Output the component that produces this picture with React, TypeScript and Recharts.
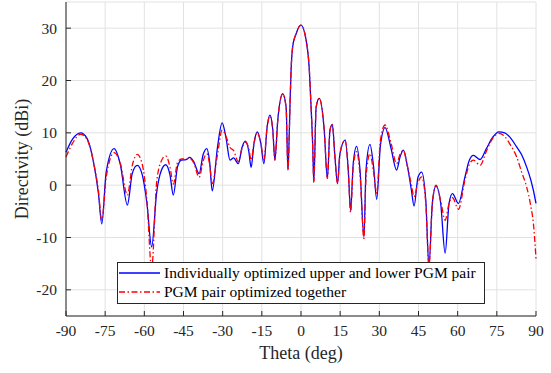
import { CartesianGrid, Legend, Line, LineChart, XAxis, YAxis } from "recharts";

const FONT = "'Liberation Serif', 'Times New Roman', serif";
const AXIS = "#262626";

// angle grid (deg)
const theta = [
  -90, -87.5, -84.4, -82, -79.5, -77.6, -76.3, -74.6, -71.6, -69.2, -66.5, -64.6, -62.7, -60.8, -59,
  -57.2, -55.3, -53.5, -51.8, -50.2, -48.9, -47.3, -45.8, -44, -42.6, -41.1, -39, -37.5, -36.1, -35,
  -34, -32, -30.2, -28.7, -27.2, -25.8, -24, -22.6, -21.3, -20, -19.1, -18, -16.7, -15.4, -14.2, -13,
  -11.9, -10.8, -10, -8.9, -7, -5.7, -5, -4.7, -4.2, -3.8, -3.2, -1.9, 0, 1.9, 3.2, 3.8, 4.5, 4.9,
  5.8, 7, 8.9, 10.1, 11.1, 12, 13, 14, 14.9, 16.9, 18.1, 19, 20, 21.3, 22.6, 24.1, 24.9, 26.4, 27.8,
  29, 30.4, 32.2, 34.5, 36.6, 38, 39.2, 40.8, 42.3, 43.3, 44.8, 46.2, 47.8, 49, 50.3, 51.7, 53.5, 55.2,
  56.7, 58, 60.3, 62.8, 64.5, 66, 68.6, 71, 73.5, 75.8, 78, 80.3, 82.6, 84.5, 86.4, 88, 89, 90,
];

// Individually optimized upper and lower PGM pair
const individual = [
  6.3, 8.8, 10.0, 9.0, 4.5, -1.5, -7.4, 2.5, 7.0, 4.0, -3.8, 2.3, 3.8, 2.0, -3.5,
  -11.8, -1.5, 2.8, 3.9, 2.0, -1.9, 3.5, 4.8, 4.9, 5.3, 4.5, 2.2, 5.8, 7.0, 4.5,
  -1.1, 7.2, 11.9, 9.0, 4.8, 5.2, 4.1, 7.2, 8.4, 6.5, 3.4, 8.0, 10.2, 8.0, 4.1, 11.0,
  13.4, 10.5, 4.8, 12.4, 17.5, 14.9, 2.9, 6.1, 15.6, 21.9, 26.4, 28.9, 30.6, 27.9, 21.9, 15.6, 7.3, 0.6,
  14.9, 16.6, 10.5, 1.3, 10.5, 11.6, 5.4, 0.3, 6.0, 8.6, 2.9, -4.8, 4.1, 7.4, 2.9, -9.9, 2.9, 7.8, 3.5,
  -2.7, 7.5, 11.0, 7.0, 2.9, 5.5, 6.7, 3.5, -1.0, -4.0, 1.5, 2.5, -3.0, -15.5, -3.5, -0.2, -3.5, -13.0,
  -3.5, -1.6, -3.5, 1.6, 4.8, 5.7, 4.9, 7.0, 9.2, 10.2, 10.0, 9.0, 7.3, 5.8, 3.5, 1.0, -1.0, -3.5,
];

// PGM pair optimized together
const together = [
  5.4, 8.0, 9.7, 8.8, 4.5, -1.0, -6.7, 1.5, 6.2, 4.2, -1.9, 3.8, 5.9, 4.0, -3.0,
  -16.0, 0.5, 4.6, 5.6, 3.5, 0.2, 4.3, 5.0, 5.0, 5.1, 4.3, 1.5, 4.6, 6.0, 4.0,
  0.3, 5.8, 10.5, 9.3, 7.2, 6.6, 4.5, 7.0, 8.2, 7.0, 4.8, 8.0, 10.0, 8.0, 4.9, 11.0,
  13.2, 10.5, 4.8, 12.4, 17.4, 14.9, 2.9, 6.1, 15.6, 21.9, 26.4, 28.9, 30.6, 27.9, 21.9, 15.6, 7.3, 0.6,
  14.9, 16.6, 10.5, 1.3, 10.5, 11.6, 5.4, 0.3, 6.0, 8.6, 2.9, -5.2, 3.5, 6.4, 2.0, -10.2, 1.5, 6.0, 2.5,
  -1.6, 8.5, 11.5, 8.0, 4.1, 6.0, 6.6, 3.5, 0.0, -2.2, 0.5, 1.6, -3.5, -15.5, -3.5, 0.0, -3.0, -6.7,
  -3.5, -2.4, -4.6, 1.0, 4.0, 4.8, 3.8, 6.5, 9.0, 9.9, 9.3, 7.6, 5.4, 2.5, -0.3, -4.0, -7.3, -14.0,
];

const xTicks = [-90, -75, -60, -45, -30, -15, 0, 15, 30, 45, 60, 75, 90];
const yTicks = [-20, -10, 0, 10, 20, 30];

const series = [
  { key: "individual", name: "Individually optimized upper and lower PGM pair", color: "#0000ff", dash: undefined },
  { key: "together", name: "PGM pair optimized together", color: "#ff0000", dash: "6 2.5 1.5 2.5" },
];

const data = theta.map((t, i) => ({ theta: t, individual: individual[i], together: together[i] }));

// tick labels drawn by hand so the serif font sticks
function XTick({ x, y, payload }: any) {
  return (
    <text x={x} y={y} dy={11} textAnchor="middle" fontFamily={FONT} fontSize={15.5} fill={AXIS}>
      {payload.value}
    </text>
  );
}

function YTick({ x, y, payload }: any) {
  return (
    <text x={x} y={y} dy={5.5} textAnchor="end" fontFamily={FONT} fontSize={15.5} fill={AXIS}>
      {payload.value}
    </text>
  );
}

function LegendBox() {
  return (
    <div
      style={{
        width: 368,
        height: 42,
        boxSizing: "border-box",
        border: `1px solid ${AXIS}`,
        background: "#fff",
        fontFamily: FONT,
        fontSize: 15.5,
        color: "#000",
      }}
    >
      {series.map((s) => (
        <div key={s.key} style={{ display: "flex", alignItems: "center", height: 19.5, whiteSpace: "nowrap" }}>
          <svg width={41} height={10} style={{ marginLeft: 1 }}>
            <line x1={0} y1={5} x2={41} y2={5} stroke={s.color} strokeWidth={1.3} strokeDasharray={s.dash} />
          </svg>
          <span style={{ marginLeft: 4 }}>{s.name}</span>
        </div>
      ))}
    </div>
  );
}

export default function App() {
  return (
    <div style={{ position: "absolute", left: 0, top: 0, fontFamily: FONT }}>
      <LineChart width={551} height={373} data={data} margin={{ top: 2, right: 15, bottom: 0, left: 0 }}>
        <CartesianGrid stroke="#e2e2e2" strokeWidth={1} />
        <XAxis
          dataKey="theta"
          type="number"
          domain={[-90, 90]}
          ticks={xTicks}
          height={57}
          tickSize={-5}
          tickMargin={14}
          tick={<XTick />}
          stroke={AXIS}
          label={{ value: "Theta (deg)", position: "insideBottom", offset: 14, fill: AXIS, fontSize: 18, fontFamily: FONT }}
        />
        <XAxis
          xAxisId="top"
          orientation="top"
          type="number"
          dataKey="theta"
          domain={[-90, 90]}
          ticks={xTicks}
          height={0}
          tickSize={-5}
          tick={false}
          stroke={AXIS}
        />
        <YAxis
          type="number"
          domain={[-25, 35]}
          ticks={yTicks}
          width={66}
          tickSize={-5}
          tickMargin={14}
          tick={<YTick />}
          stroke={AXIS}
          label={{ value: "Directivity (dBi)", angle: -90, position: "center", dx: -11, fill: AXIS, fontSize: 18, fontFamily: FONT }}
        />
        <YAxis
          yAxisId="right"
          orientation="right"
          type="number"
          domain={[-25, 35]}
          ticks={yTicks}
          width={0}
          tickSize={-5}
          tick={false}
          stroke={AXIS}
        />
        {series.map((s) => (
          <Line
            key={s.key}
            type="monotone"
            dataKey={s.key}
            name={s.name}
            stroke={s.color}
            strokeWidth={1.3}
            strokeDasharray={s.dash}
            dot={false}
            isAnimationActive={false}
          />
        ))}
        <Legend
          layout="vertical"
          align="center"
          verticalAlign="middle"
          content={() => <LegendBox />}
          wrapperStyle={{ left: 117, top: 262, width: 368 }}
        />
      </LineChart>
    </div>
  );
}
